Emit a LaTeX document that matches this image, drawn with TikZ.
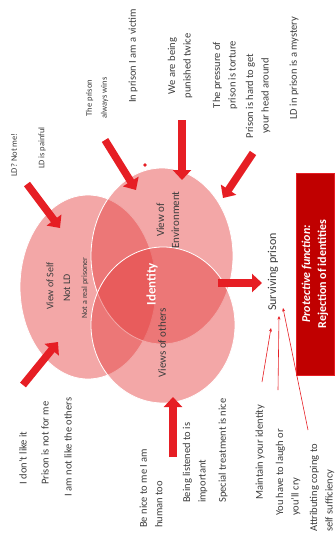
\documentclass[tikz,border=0pt]{standalone}
\usepackage{fontspec}
\setmainfont{Carlito}
\usetikzlibrary{arrows.meta}
\definecolor{arrred}{RGB}{230,30,36}
\definecolor{circ}{RGB}{228,60,60}
\definecolor{boxred}{RGB}{192,0,0}
\definecolor{txt}{RGB}{60,60,60}
\begin{document}
\begin{tikzpicture}[x=1pt,y=-1pt,
  lbl/.style={rotate=90, font=\fontsize{10.5}{15.5}\selectfont, text=txt, inner sep=0pt, align=center},
  slbl/.style={lbl, font=\fontsize{8.5}{15}\selectfont},
  blbl/.style={lbl, anchor=west, align=left},
  ctext/.style={rotate=90, text=txt, inner sep=0pt, align=center},
  bigarrow/.style={draw=arrred, line width=7.5pt, -{Triangle[length=10pt,width=18pt]}},
  thinarrow/.style={draw=arrred, line width=0.6pt, -{Stealth[length=3.5pt,width=3pt]}},
  venn/.style={fill=circ, fill opacity=0.45, draw=white, draw opacity=1, line width=0.8pt},
]
\path[use as bounding box] (0,0) rectangle (336,535);

% Venn circles
\draw[venn] (88,287) ellipse [x radius=68pt, y radius=92pt];
\draw[venn] (162,256) ellipse [x radius=71pt, y radius=88pt];
\draw[venn] (163,325) ellipse [x radius=72pt, y radius=78pt];
\fill[arrred] (145,165) circle [radius=1.8pt];

% circle texts
\node[ctext, font=\fontsize{10}{12}\selectfont] (vself) at (50,286) {View of Self};
\node[ctext, font=\fontsize{10}{12}\selectfont] (notld) at (67,288) {Not LD};
\node[ctext, font=\fontsize{8}{10}\selectfont] (notreal) at (85,288) {Not a real prisoner};
\node[ctext, font=\fontsize{11}{15}\selectfont] (venv) at (168,220) {View of\\Environment};
\node[ctext, font=\fontsize{13}{15}\selectfont\bfseries, text=white] (ident) at (152,284) {Identity};
\node[ctext, font=\fontsize{11}{13}\selectfont] (voth) at (162,343) {Views of others};
\node[ctext, font=\fontsize{12}{14}\selectfont] (surv) at (273,272) {Surviving prison};

% red box
\node[rotate=90, fill=boxred, draw=arrred, line width=1pt, minimum width=202pt, minimum height=38pt,
  text=white, align=center, font=\fontsize{12}{16}\selectfont\bfseries] (box) at (315,274)
  {\itshape Protective function:\\Rejection of identities};

% top texts
\node[slbl] (t1) at (14,155) {LD? Not me!};
\node[slbl] (t2) at (42,148) {LD is painful};
\node[slbl] (t3) at (97,98) {The prison\\always wins};
\node[lbl] (t4) at (133,56) {In prison I am a victim};
\node[lbl] (t5) at (180,66) {We are being\\punished twice};
\node[lbl] (t6) at (225,75) {The pressure of\\prison is torture};
\node[lbl] (t7) at (258,96) {Prison is hard to get\\your head around};
\node[lbl] (t8) at (294,68) {LD in prison is a mystery};

% bottom texts
\node[lbl] (b1) at (23,458) {I don't like it};
\node[lbl] (b2) at (45,443) {Prison is not for me};
\node[lbl] (b3) at (68,447) {I am not like the others};
\node[blbl] (b4) at (151,528) {Be nice to me I am\\human too};
\node[blbl] (b5) at (195,503) {Being listened to is\\important};
\node[blbl] (b6) at (223,503) {Special treatment is nice};
\node[blbl] (b7) at (260,500) {Maintain your identity};
\node[blbl] (b8) at (288,516) {You have to laugh or\\you'll cry};
\node[blbl] (b9) at (322,532) {Attributing coping to\\self sufficiency};

% arrow endpoints
\coordinate (a1s) at (27,184);  \coordinate (a1e) at (60,228);
\coordinate (a2s) at (105,140); \coordinate (a2e) at (136,190);
\coordinate (a3s) at (182,120); \coordinate (a3e) at (182,180);
\coordinate (a4s) at (253,153); \coordinate (a4e) at (223,198);
\coordinate (a5s) at (23,385);  \coordinate (a5e) at (58,342);
\coordinate (a6s) at (173,457); \coordinate (a6e) at (173,397);
\coordinate (a7s) at (218,283); \coordinate (a7e) at (262,283);

\draw[bigarrow] (a1s) -- (a1e);
\draw[bigarrow] (a2s) -- (a2e);
\draw[bigarrow] (a3s) -- (a3e);
\draw[bigarrow] (a4s) -- (a4e);
\draw[bigarrow] (a5s) -- (a5e);
\draw[bigarrow] (a6s) -- (a6e);
\draw[bigarrow] (a7s) -- (a7e);

% thin connectors
\coordinate (l1s) at (262,382); \coordinate (l1e) at (271,328);
\coordinate (l2s) at (278,390); \coordinate (l2e) at (279,316);
\coordinate (l3s) at (308,430); \coordinate (l3e) at (283,308);
\draw[thinarrow] (l1s) -- (l1e);
\draw[thinarrow] (l2s) -- (l2e);
\draw[thinarrow] (l3s) -- (l3e);
\end{tikzpicture}
\end{document}
